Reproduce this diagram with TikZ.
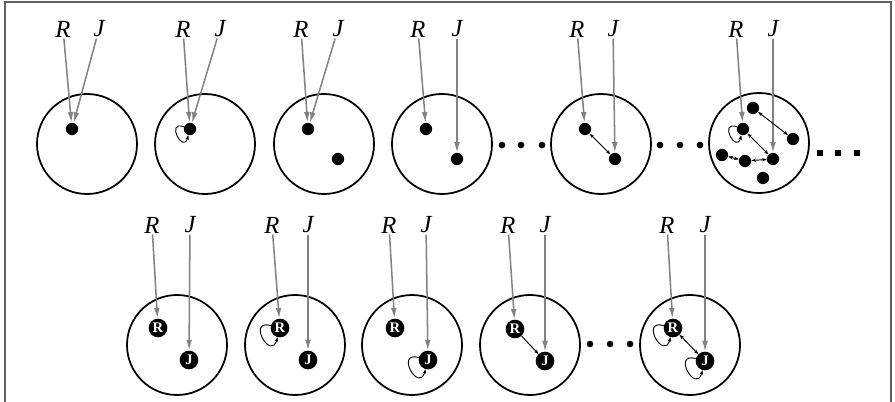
\documentclass[tikz,border=0pt]{standalone}
\usepackage{fontspec}
\setmainfont{Liberation Serif}
\usetikzlibrary{arrows.meta}
\definecolor{feedgray}{RGB}{130,130,130}
\definecolor{framegray}{RGB}{95,95,95}

\begin{document}
\begin{tikzpicture}[
    x=0.03cm, y=-0.03cm,
    room/.style={draw, circle, line width=1.5pt, minimum size=3cm, inner sep=0pt},
    dot/.style={circle, fill=black, minimum size=0.37cm, inner sep=0pt},
    agent/.style={circle, fill=black, text=white, minimum size=0.56cm, inner sep=0pt, font=\fontsize{12.5}{12.5}\selectfont\bfseries},
    tag/.style={inner sep=1pt, font=\fontsize{21}{21}\selectfont\itshape},
    ell/.style={circle, fill=black, minimum size=0.2cm, inner sep=0pt},
    sq/.style={rectangle, fill=black, minimum size=0.2cm, inner sep=0pt},
    feed/.style={-{Latex[length=9pt,width=5pt]}, draw=feedgray, line width=1.3pt},
    link/.style={{Stealth[length=4pt,width=3pt]}-{Stealth[length=4pt,width=3pt]}, line width=0.8pt},
    selfloop/.style={-{Stealth[length=4pt,width=3pt]}, line width=0.8pt, min distance=0.6cm},
    bigloop/.style={selfloop, min distance=0.75cm}
]
  \useasboundingbox (0,0) rectangle (895,402);
  \draw[framegray, line width=1pt] (5,402) -- (5,2) -- (891,2) -- (891,402);

  % top row
  \node[room] (c1) at (87,144) {};
  \node[dot] (a1) at (72,129) {};
  \node[tag] (r1) at (63,29) {R};
  \node[tag] (j1) at (99,29) {J};
  \draw[feed] (r1) -- (a1);
  \draw[feed] (j1) -- (a1);

  \node[room] (c2) at (205,144) {};
  \node[dot] (a2) at (190,129) {};
  \node[tag] (r2) at (183,29) {R};
  \node[tag] (j2) at (220,29) {J};
  \draw[feed] (r2) -- (a2);
  \draw[feed] (j2) -- (a2);
  \draw[selfloop] (a2) to[out=160, in=255] (a2);

  \node[room] (c3) at (324,144) {};
  \node[dot] (a3) at (308,129) {};
  \node[dot] (b3) at (338,159) {};
  \node[tag] (r3) at (301,29) {R};
  \node[tag] (j3) at (338,29) {J};
  \draw[feed] (r3) -- (a3);
  \draw[feed] (j3) -- (a3);

  \node[room] (c4) at (442,144) {};
  \node[dot] (a4) at (426,129) {};
  \node[dot] (b4) at (457,159) {};
  \node[tag] (r4) at (418,29) {R};
  \node[tag] (j4) at (457,29) {J};
  \draw[feed] (r4) -- (a4);
  \draw[feed] (j4) -- (b4);

  \node[ell] (e1) at (502,145) {};
  \node[ell] (e2) at (521,145) {};
  \node[ell] (e3) at (542,145) {};

  \node[room] (c5) at (601,144) {};
  \node[dot] (a5) at (585,129) {};
  \node[dot] (b5) at (615,159) {};
  \node[tag] (r5) at (577,29) {R};
  \node[tag] (j5) at (613,29) {J};
  \draw[feed] (r5) -- (a5);
  \draw[feed] (j5) -- (b5);
  \draw[link] (a5) -- (b5);

  \node[ell] (e4) at (660,145) {};
  \node[ell] (e5) at (680,145) {};
  \node[ell] (e6) at (700,145) {};

  \node[room] (c6) at (759,143) {};
  \node[dot] (d61) at (753,108) {};
  \node[dot] (d62) at (743,129) {};
  \node[dot] (d63) at (793,139) {};
  \node[dot] (d64) at (722,155) {};
  \node[dot] (d65) at (745,161) {};
  \node[dot] (d66) at (773,159) {};
  \node[dot] (d67) at (763,178) {};
  \node[tag] (r6) at (736,29) {R};
  \node[tag] (j6) at (773,29) {J};
  \draw[feed] (r6) -- (d62);
  \draw[feed] (j6) -- (d66);
  \draw[selfloop] (d62) to[out=160, in=255] (d62);
  \draw[link] (d61) -- (d63);
  \draw[link] (d62) -- (d66);
  \draw[link] (d64) -- (d65);
  \draw[link] (d65) -- (d66);

  \node[sq] (s1) at (820,153) {};
  \node[sq] (s2) at (838,153) {};
  \node[sq] (s3) at (857,153) {};

  % bottom row
  \node[room] (c7) at (177,345) {};
  \node[agent] (n7r) at (158,328) {R};
  \node[agent] (n7j) at (189,360) {J};
  \node[tag] (r7) at (152,225) {R};
  \node[tag] (j7) at (190,225) {J};
  \draw[feed] (r7) -- (n7r);
  \draw[feed] (j7) -- (n7j);

  \node[room] (c8) at (295,345) {};
  \node[agent] (n8r) at (280,328) {R};
  \node[agent] (n8j) at (308,360) {J};
  \node[tag] (r8) at (272,225) {R};
  \node[tag] (j8) at (308,225) {J};
  \draw[feed] (r8) -- (n8r);
  \draw[feed] (j8) -- (n8j);
  \draw[bigloop] (n8r) to[out=165, in=255] (n8r);

  \node[room] (c9) at (412,345) {};
  \node[agent] (n9r) at (395,328) {R};
  \node[agent] (n9j) at (428,360) {J};
  \node[tag] (r9) at (389,225) {R};
  \node[tag] (j9) at (426,225) {J};
  \draw[feed] (r9) -- (n9r);
  \draw[feed] (j9) -- (n9j);
  \draw[bigloop] (n9j) to[out=165, in=255] (n9j);

  \node[room] (c10) at (530,345) {};
  \node[agent] (n10r) at (515,329) {R};
  \node[agent] (n10j) at (545,361) {J};
  \node[tag] (r10) at (508,225) {R};
  \node[tag] (j10) at (545,225) {J};
  \draw[feed] (r10) -- (n10r);
  \draw[feed] (j10) -- (n10j);
  \draw[-{Stealth[length=4pt,width=3pt]}, line width=0.8pt] (n10r) -- (n10j);

  \node[ell] (e7) at (590,344) {};
  \node[ell] (e8) at (610,344) {};
  \node[ell] (e9) at (630,344) {};

  \node[room] (c11) at (690,345) {};
  \node[agent] (n11r) at (673,328) {R};
  \node[agent] (n11j) at (705,361) {J};
  \node[tag] (r11) at (667,225) {R};
  \node[tag] (j11) at (705,225) {J};
  \draw[feed] (r11) -- (n11r);
  \draw[feed] (j11) -- (n11j);
  \draw[bigloop] (n11r) to[out=165, in=255] (n11r);
  \draw[bigloop] (n11j) to[out=165, in=255] (n11j);
  \draw[link] (n11r) -- (n11j);
\end{tikzpicture}
\end{document}
